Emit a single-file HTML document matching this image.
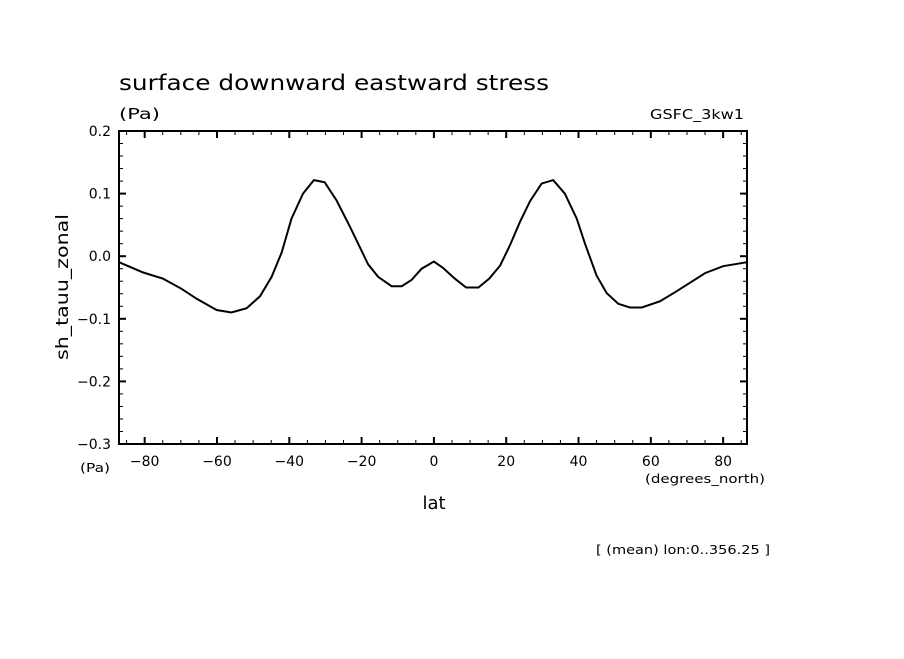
<!DOCTYPE html>
<html><head><meta charset="utf-8"><style>
body{margin:0;background:#fff}
svg text{font-family:"DejaVu Sans","Liberation Sans",sans-serif;fill:#000}
</style></head><body>
<svg id="chart" width="904" height="654" xmlns="http://www.w3.org/2000/svg">
<rect width="904" height="654" fill="#fff"/>
<text x="119" y="90" font-size="21" textLength="430" lengthAdjust="spacingAndGlyphs">surface downward eastward stress</text>
<text x="119" y="119" font-size="15" textLength="41" lengthAdjust="spacingAndGlyphs">(Pa)</text>
<text x="650" y="119" font-size="13" textLength="94" lengthAdjust="spacingAndGlyphs">GSFC_3kw1</text>
<text transform="translate(68,287) rotate(-90)" font-size="17" text-anchor="middle" textLength="146" lengthAdjust="spacingAndGlyphs">sh_tauu_zonal</text>
<text x="434" y="509" font-size="18" text-anchor="middle">lat</text>
<text x="80" y="472" font-size="12" textLength="30" lengthAdjust="spacingAndGlyphs">(Pa)</text>
<text x="645" y="483" font-size="12" textLength="120" lengthAdjust="spacingAndGlyphs">(degrees_north)</text>
<text x="596" y="554" font-size="12" textLength="174" lengthAdjust="spacingAndGlyphs">[ (mean) lon:0..356.25 ]</text>
<g id="axes"></g>
<path id="line" fill="none" stroke="#000" stroke-width="2"/>
</svg>
<script>
const lats=[-87.1,-80.4,-74.9,-69.8,-65.6,-60.1,-56,-51.8,-48.1,-44.9,-42.1,-39.4,-36.2,-33.2,-30.2,-26.9,-23.2,-18.2,-15.4,-11.7,-8.9,-6.2,-3.4,0,2.4,5.8,8.9,12.3,15.3,18.3,21,23.8,26.6,29.8,33,36.2,39.5,41.8,45,47.8,51,54.2,57.5,62.5,67.1,75,80,86.6];
const values=[-0.0096,-0.026,-0.036,-0.052,-0.068,-0.086,-0.09,-0.083,-0.064,-0.033,0.006,0.06,0.1,0.1215,0.118,0.089,0.047,-0.013,-0.033,-0.048,-0.048,-0.038,-0.02,-0.0085,-0.018,-0.036,-0.05,-0.05,-0.036,-0.015,0.017,0.055,0.088,0.116,0.1215,0.1,0.06,0.02,-0.031,-0.059,-0.076,-0.082,-0.082,-0.072,-0.056,-0.027,-0.016,-0.0096];
const yTicks=[-0.3,-0.2,-0.1,0.0,0.1,0.2];
const yTickLabels=["\u22120.3","\u22120.2","\u22120.1","0.0","0.1","0.2"];
const xTicks=[-80,-60,-40,-20,0,20,40,60,80];
const xTickLabels=["\u221280","\u221260","\u221240","\u221220","0","20","40","60","80"];
const L=119,R=747,T=131,B=444,XMIN=-87.1,XMAX=86.6,YMIN=-0.3,YMAX=0.2;
const sx=v=>L+(v-XMIN)/(XMAX-XMIN)*(R-L);
const sy=v=>B-(v-YMIN)/(YMAX-YMIN)*(B-T);
const NS="http://www.w3.org/2000/svg";
const g=document.getElementById('axes');
function mk(tag,a){const e=document.createElementNS(NS,tag);for(const k in a)e.setAttribute(k,a[k]);g.appendChild(e);return e;}
const frame=mk('rect',{x:L,y:T,width:R-L,height:B-T,fill:'none',stroke:'#000','stroke-width':2});


for(let v=-0.3;v<=0.2001;v+=0.02){const y=sy(v);const major=Math.abs(v*10-Math.round(v*10))<1e-6;const len=major?7:4;
 const t1=mk('line',{x1:L,x2:L+len,y1:y,y2:y,stroke:'#000','stroke-width':major?2:1});
 
 
 const t2=mk('line',{x1:R,x2:R-len,y1:y,y2:y,stroke:'#000','stroke-width':major?2:1});
 
 }
for(let v=-85;v<=85;v+=5){const x=sx(v);const major=v%20===0;const len=major?7:4;
 const t1=mk('line',{x1:x,x2:x,y1:B,y2:B-len,stroke:'#000','stroke-width':major?2:1});
 
 
 const t2=mk('line',{x1:x,x2:x,y1:T,y2:T+len,stroke:'#000','stroke-width':major?2:1});
 
 }
yTicks.forEach((v,i)=>{const t=mk('text',{x:111,y:sy(v)+5,'font-size':14,'text-anchor':'end'});t.textContent=yTickLabels[i];
 
 });
xTicks.forEach((v,i)=>{const t=mk('text',{x:sx(v),y:466,'font-size':14,'text-anchor':'middle'});t.textContent=xTickLabels[i];
 
 });
document.getElementById('line').setAttribute('d',lats.map((la,i)=>(i?'L':'M')+sx(la).toFixed(1)+','+sy(values[i]).toFixed(1)).join(''));
</script>
</body></html>
